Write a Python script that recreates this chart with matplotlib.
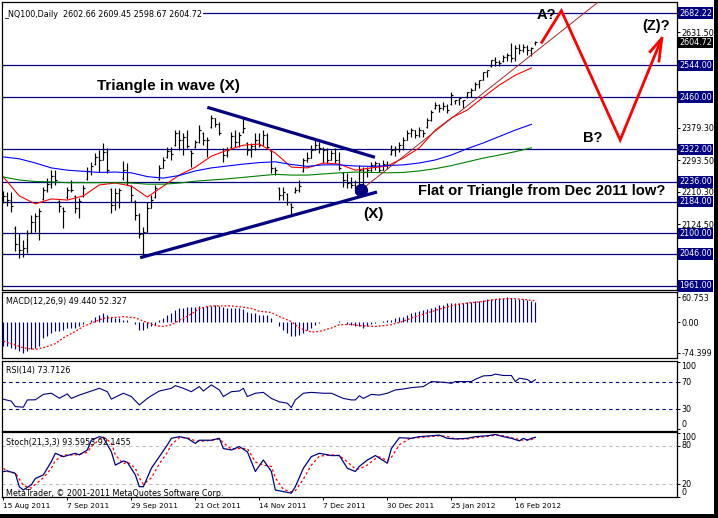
import numpy as np
import matplotlib.pyplot as plt
from matplotlib.patches import Rectangle
from matplotlib.transforms import blended_transform_factory

# ---- NQ100 daily bars, 15 Aug 2011 .. 23 Feb 2012 ----
bar_open = [2205, 2199, 2188, 2115, 2072, 2056, 2061, 2101, 2130, 2146,
            2192, 2215, 2230, 2252, 2185, 2168, 2195, 2215, 2198, 2167,
            2198, 2243, 2265, 2283, 2302, 2294, 2315, 2217, 2175, 2207,
            2245, 2267, 2225, 2186, 2148, 2098, 2104, 2167, 2195, 2244,
            2273, 2301, 2318, 2333, 2365, 2347, 2355, 2318, 2328, 2341,
            2366, 2347, 2380, 2405, 2389, 2324, 2307, 2328, 2357, 2341,
            2367, 2339, 2320, 2331, 2347, 2333, 2360, 2318, 2273, 2220,
            2201, 2205, 2178, 2209, 2215, 2265, 2294, 2299, 2320, 2333,
            2326, 2320, 2294, 2312, 2294, 2260, 2241, 2233, 2228, 2225,
            2267, 2262, 2267, 2281, 2286, 2267, 2283, 2309, 2320, 2323,
            2333, 2347, 2365, 2373, 2360, 2373, 2380, 2400, 2430, 2439,
            2431, 2437, 2441, 2450, 2452, 2450, 2460, 2474, 2479, 2495,
            2505, 2526, 2542, 2558, 2553, 2555, 2566, 2571, 2563, 2590,
            2585, 2592, 2585, 2602.66]
bar_high = [2212, 2209, 2209, 2120, 2101, 2083, 2109, 2148, 2154, 2167,
            2223, 2246, 2267, 2267, 2188, 2170, 2223, 2241, 2201, 2194,
            2228, 2275, 2289, 2312, 2320, 2339, 2326, 2220, 2220, 2220,
            2291, 2286, 2228, 2188, 2154, 2117, 2183, 2201, 2228, 2281,
            2302, 2328, 2328, 2373, 2373, 2365, 2373, 2320, 2347, 2386,
            2368, 2355, 2413, 2405, 2394, 2326, 2328, 2368, 2373, 2368,
            2405, 2341, 2339, 2365, 2365, 2373, 2365, 2320, 2275, 2222,
            2222, 2207, 2180, 2223, 2241, 2299, 2315, 2333, 2352, 2341,
            2328, 2326, 2320, 2326, 2315, 2262, 2259, 2249, 2241, 2281,
            2275, 2275, 2289, 2291, 2286, 2294, 2291, 2333, 2331, 2341,
            2355, 2373, 2378, 2373, 2381, 2373, 2405, 2426, 2447, 2442,
            2447, 2442, 2473, 2452, 2458, 2452, 2474, 2484, 2500, 2505,
            2527, 2532, 2558, 2566, 2558, 2571, 2577, 2603, 2598, 2600,
            2600, 2598, 2592, 2609.45]
bar_low = [2180, 2172, 2157, 2053, 2035, 2038, 2048, 2101, 2104, 2083,
           2188, 2209, 2220, 2228, 2157, 2114, 2191, 2209, 2154, 2141,
           2196, 2241, 2254, 2281, 2262, 2294, 2260, 2154, 2162, 2167,
           2241, 2228, 2183, 2135, 2088, 2038, 2104, 2167, 2193, 2241,
           2273, 2299, 2294, 2331, 2320, 2307, 2326, 2275, 2326, 2339,
           2333, 2302, 2378, 2381, 2360, 2289, 2302, 2326, 2328, 2328,
           2365, 2307, 2302, 2320, 2328, 2333, 2326, 2260, 2254, 2188,
           2188, 2175, 2149, 2207, 2209, 2262, 2289, 2299, 2320, 2312,
           2286, 2286, 2294, 2286, 2267, 2223, 2220, 2220, 2207, 2223,
           2207, 2249, 2262, 2267, 2262, 2267, 2270, 2307, 2304, 2315,
           2320, 2347, 2355, 2352, 2355, 2355, 2378, 2397, 2429, 2421,
           2426, 2418, 2439, 2442, 2439, 2431, 2458, 2460, 2479, 2484,
           2505, 2513, 2540, 2542, 2542, 2553, 2555, 2553, 2555, 2574,
           2579, 2571, 2569, 2598.67]
bar_close = [2199, 2188, 2172, 2072, 2056, 2061, 2101, 2130, 2146, 2159,
             2215, 2230, 2252, 2241, 2172, 2159, 2215, 2215, 2167, 2186,
             2220, 2265, 2278, 2302, 2294, 2315, 2267, 2175, 2207, 2215,
             2267, 2236, 2201, 2148, 2098, 2104, 2167, 2188, 2220, 2273,
             2294, 2318, 2310, 2365, 2347, 2355, 2331, 2312, 2341, 2373,
             2347, 2347, 2405, 2389, 2365, 2307, 2320, 2357, 2341, 2360,
             2378, 2320, 2331, 2347, 2333, 2360, 2328, 2273, 2267, 2201,
             2209, 2183, 2170, 2215, 2225, 2294, 2299, 2320, 2333, 2326,
             2320, 2294, 2312, 2294, 2273, 2241, 2233, 2228, 2215, 2267,
             2262, 2267, 2281, 2286, 2267, 2283, 2281, 2320, 2323, 2333,
             2347, 2365, 2373, 2360, 2373, 2365, 2400, 2421, 2439, 2431,
             2437, 2426, 2466, 2452, 2458, 2452, 2474, 2479, 2495, 2505,
             2526, 2532, 2558, 2553, 2550, 2566, 2571, 2563, 2590, 2585,
             2592, 2585, 2590, 2604.72]

# moving averages, sampled every 4 bars
ma_x = list(range(0, 133, 4))
ma_red = [2249, 2199, 2178, 2191, 2188, 2199, 2228, 2233, 2225, 2196, 2225, 2254,
          2275, 2304, 2320, 2333, 2336, 2312, 2275, 2273, 2286, 2283, 2267, 2273,
          2278, 2299, 2326, 2373, 2405, 2426, 2460, 2492, 2518, 2537]
ma_blue = [2302, 2297, 2286, 2273, 2267, 2264, 2261, 2262, 2260, 2250, 2246, 2253,
           2265, 2273, 2278, 2283, 2287, 2289, 2282, 2277, 2281, 2281, 2278, 2277,
           2279, 2281, 2286, 2294, 2307, 2324, 2339, 2356, 2373, 2388]
ma_green = [2249, 2241, 2237, 2236, 2234, 2234, 2234, 2234, 2233, 2230, 2230, 2233,
            2238, 2241, 2244, 2248, 2252, 2256, 2254, 2254, 2257, 2260, 2262, 2261,
            2260, 2261, 2265, 2271, 2279, 2289, 2299, 2307, 2316, 2326]

# MACD(12,26,9)
macd_hist = [-58, -58, -62, -66, -70, -74.399, -70, -66, -62, -58,
             -38, -34, -26, -21, -21, -18, -14, -13, -13, -10,
             -5, 0, 6, 14, 18, 22, 19, 14, 10, 10,
             6, 6, 2, -5, -18, -18, -14, -10, -6, 6,
             10, 18, 22, 30, 34, 35, 38, 38, 38, 40,
             38, 40, 40, 43, 40, 38, 35, 34, 34, 34,
             32, 26, 22, 22, 19, 18, 18, 11, 2, -10,
             -18, -26, -34, -34, -30, -26, -18, -14, -6, -2,
             0, 2, 2, 2, 3, 0, -5, -6, -10, -10,
             -13, -10, -5, -2, 0, 3, 6, 6, 10, 14,
             14, 18, 22, 26, 27, 30, 32, 34, 38, 42,
             43, 46, 46, 48, 48, 48, 50, 50, 51, 51,
             54, 56, 56, 58, 59, 60, 60.753, 60, 58, 56,
             56, 54, 52, 49.44]
sig_x = [0, 3, 5, 8, 10, 13, 15, 18, 20, 23, 25, 28, 30, 33, 35, 38, 40, 42, 44, 47,
         49, 52, 54, 57, 59, 62, 64, 67, 69, 72, 74, 77, 79, 82, 84, 87, 89, 93, 97, 100,
         103, 107, 110, 113, 117, 120, 123, 127, 130, 133]
sig_val = [-46, -55, -62, -66, -62, -52, -38, -22, -10, 2, 10, 12, 14, 11, 3, -8, -10, -6, 5, 20,
           34, 40, 40, 40, 38, 34, 27, 24, 14, 2, -14, -24, -22, -14, -6, -5, -8, -10, -6, 3,
           14, 26, 35, 43, 48, 51, 56, 58, 56, 52.327]

# RSI(14)
rsi_x = [0, 2, 3, 5, 6, 8, 10, 12, 14, 16, 17, 19, 22, 24, 26, 27, 30, 32, 34, 36,
         37, 39, 42, 43, 45, 47, 49, 50, 52, 54, 55, 57, 59, 60, 61, 63, 65, 67, 69, 71,
         72, 73, 75, 77, 80, 82, 85, 87, 88, 89, 90, 92, 94, 96, 98, 100, 102, 105, 107, 110,
         112, 113, 115, 117, 118, 120, 122, 123, 125, 127, 128, 129, 131, 132, 133]
rsi_val = [44.8, 42, 34, 33, 43.8, 44, 52, 53.7, 46.3, 52.7, 46, 51, 57, 61, 56, 45, 53.7, 48.8, 36.4, 46,
           50, 57, 61, 65, 61, 56, 63.6, 57, 66, 58.6, 48.8, 56, 57, 61, 48.8, 53.7, 55, 46, 41, 38.9,
           32.5, 43.8, 53.7, 55, 53.7, 53.7, 46, 43.8, 43.8, 50, 46, 52, 51, 53.7, 58.6, 60, 62, 63.6, 71, 70,
           68.5, 71, 71, 71, 74.4, 79.4, 80, 82, 80, 80, 71, 76, 74, 70, 73.7126]

# Stoch(21,3,3)
st_x = [0, 1, 3, 4, 5, 7, 8, 10, 12, 13, 15, 18, 19, 21, 22, 24, 25, 27, 28, 30,
        31, 33, 34, 35, 37, 39, 41, 42, 44, 46, 48, 49, 52, 54, 55, 57, 59, 61, 63, 65,
        67, 68, 70, 72, 73, 75, 77, 79, 82, 84, 86, 88, 89, 91, 93, 94, 96, 97, 99, 102,
        104, 107, 109, 111, 113, 116, 118, 121, 123, 125, 127, 129, 130, 131, 132, 133]
st_main = [39.8, 41, 37, 16, 11, 19, 29, 34.6, 55.5, 68.5, 63.3, 68.5, 66, 73.7, 89, 94.6, 93, 71, 50, 56.5,
           54.4, 34.6, 16.3, 16, 45, 63.3, 81.6, 92, 94.6, 92, 84, 89, 89, 92, 76, 73.7, 79, 71, 40, 58,
           40, 11, 8.5, 6, 16.3, 45, 63.3, 68.5, 65, 65, 45, 40, 48, 58, 65, 61, 53, 76, 93, 92,
           94.6, 96, 97, 92, 91, 92, 94.6, 96, 98, 94.6, 92, 88, 92, 89, 92, 93.5953]
st_sig = [45, 40, 38, 28, 18, 14, 20, 30, 45, 57, 66, 66, 67, 70, 79, 90, 94, 85, 66, 52,
          55, 45, 30, 20, 30, 52, 70, 82, 93, 93, 88, 87, 89, 91, 85, 75, 76, 76, 55, 50,
          48, 30, 12, 8, 10, 28, 50, 64, 66, 65, 55, 44, 44, 50, 60, 63, 57, 62, 82, 93,
          93, 95, 96, 95, 91, 91, 93, 95, 97, 96, 93, 90, 89, 90, 90, 92.1455]

# horizontal levels and right-scale labels
level_lines = [2682.22, 2544.00, 2460.00, 2322.00, 2236.00, 2184.00, 2100.00, 2046.00, 1961.00]
price_ticks = [2631.50, 2379.30, 2293.50, 2210.30, 2124.50]
last_price = 2604.72

date_ticks = [0, 16, 32, 48, 64, 80, 96, 112, 128]
date_labels = ['15 Aug 2011', '7 Sep 2011', '29 Sep 2011', '21 Oct 2011', '14 Nov 2011',
               '7 Dec 2011', '30 Dec 2011', '25 Jan 2012', '16 Feb 2012']

# drawn objects (bar index, price)
tri_upper_x, tri_upper_y = [51.0, 92.9], [2433.1, 2301.0]
tri_lower_x, tri_lower_y = [34.2, 93.4], [2035.7, 2209.3]
x_low = (89.4, 2214.6)
chan_x, chan_y = [89.4, 150.0], [2214.6, 2722.0]
wave_x = [134.6, 139.5, 154.2, 164.6]
wave_y = [2604.8, 2688.3, 2346.7, 2615.4]
head_x = [161.7, 164.6, 163.9]
head_y = [2580.0, 2615.4, 2555.4]

notes = [('Triangle in wave (X)', 23.4, 2490.0, 11),
         ('Flat or Triangle from Dec 2011 low?', 103.75, 2212.0, 10.6),
         ('(X)', 89.85, 2151.0, 11),
         ('A?', 133.2, 2677.0, 10.5),
         ('(Z)?', 159.6, 2648.0, 10.5),
         ('B?', 144.85, 2352.0, 10.5)]

NAVY = '#000080'
FS = 5.8
plt.rcParams['font.family'] = ['DejaVu Sans']

W, H = 718, 518
fig = plt.figure(figsize=(W / 100, H / 100), dpi=100, facecolor='white')


def pane(top, bottom):
    a = fig.add_axes([2 / W, (H - bottom) / H, 675 / W, (bottom - top) / H])
    a.set_xlim(-0.33, 168.4)
    for s in a.spines.values():
        s.set_linewidth(0.9)
        s.set_color('black')
    a.yaxis.tick_right()
    a.tick_params(axis='y', length=2.5, width=0.7, pad=1, labelsize=FS)
    a.tick_params(axis='x', bottom=False, labelbottom=False)
    return a


ax = pane(2, 290)
ax_macd = pane(292, 358)
ax_rsi = pane(360.5, 430.5)
ax_st = pane(432, 497)

# ---- main price pane ----
idx = np.arange(len(bar_close))
ax.set_ylim(1950.4, 2711.3)
ax.vlines(idx, bar_low, bar_high, color='black', lw=0.85, zorder=3)
ax.hlines(bar_open, idx - 0.3, idx, color='black', lw=0.85, zorder=3)
ax.hlines(bar_close, idx, idx + 0.3, color='black', lw=0.85, zorder=3)

ax.plot(ma_x, ma_red, color='red', lw=0.8, zorder=4)
ax.plot(ma_x, ma_blue, color='blue', lw=0.8, zorder=4)
ax.plot(ma_x, ma_green, color='green', lw=0.8, zorder=4)

for lv in level_lines:
    ax.axhline(lv, color=NAVY, lw=0.9, zorder=2)

ax.plot(tri_upper_x, tri_upper_y, color=NAVY, lw=2.3, solid_capstyle='butt', zorder=5)
ax.plot(tri_lower_x, tri_lower_y, color=NAVY, lw=2.3, solid_capstyle='butt', zorder=5)
ax.plot(chan_x, chan_y, color='#a52a2a', lw=0.7, zorder=5)
ax.plot([x_low[0]], [x_low[1]], 'o', color=NAVY, ms=8.5, zorder=6)

ax.plot(wave_x, wave_y, color='red', lw=2.0, zorder=6, solid_joinstyle='miter')
ax.plot(head_x, head_y, color='red', lw=2.0, zorder=6)

for txt, tx, ty, fs in notes:
    ax.text(tx, ty, txt, fontsize=fs, fontweight='bold', family='Liberation Sans',
            ha='left', va='center', zorder=7)

ax.text(0.003, 0.958, '_NQ100,Daily  2602.66 2609.45 2598.67 2604.72', transform=ax.transAxes,
        fontsize=FS, ha='left', va='center', zorder=8,
        bbox=dict(boxstyle='square,pad=0.15', fc='white', ec='none'))

ax.set_yticks(price_ticks)
ax.set_yticklabels([f'{p:.2f}' for p in price_ticks])
trans = blended_transform_factory(ax.transAxes, ax.transData)
for lv in level_lines:
    ax.text(1.003, lv, f'{lv:.2f}', transform=trans, ha='left', va='center', color='white',
            fontsize=FS, clip_on=False,
            bbox=dict(boxstyle='square,pad=0.15', fc=NAVY, ec='none'))
ax.text(1.003, last_price, f'{last_price:.2f}', transform=trans, ha='left', va='center',
        color='white', fontsize=FS, clip_on=False,
        bbox=dict(boxstyle='square,pad=0.15', fc='black', ec='none'))

# ---- MACD ----
ax_macd.set_ylim(-87, 74)
ax_macd.vlines(idx, 0, macd_hist, color=NAVY, lw=0.85)
ax_macd.plot(sig_x, sig_val, color='red', lw=0.9, ls=(0, (1.5, 1.5)))
ax_macd.set_yticks([60.753, 0, -74.399])
ax_macd.set_yticklabels(['60.753', '0.00', '-74.399'])
ax_macd.text(0.006, 0.85, 'MACD(12,26,9) 49.440 52.327', transform=ax_macd.transAxes,
             fontsize=FS, ha='left', va='center')

# ---- RSI ----
ax_rsi.set_ylim(-1.5, 102.2)
for lv in (70, 30):
    ax_rsi.axhline(lv, color=NAVY, lw=0.8, ls=(0, (3, 3)))
ax_rsi.plot(rsi_x, rsi_val, color=NAVY, lw=0.8)
ax_rsi.set_yticks([100, 70, 30, 0])
ax_rsi.set_yticklabels([])
tr = blended_transform_factory(ax_rsi.transAxes, ax_rsi.transData)
for v, va in ((100, 'top'), (70, 'center'), (30, 'center'), (0, 'bottom')):
    ax_rsi.text(1.006, v, str(v), transform=tr, fontsize=FS, ha='left', va=va, clip_on=False)
ax_rsi.text(0.006, 0.85, 'RSI(14) 73.7126', transform=ax_rsi.transAxes,
            fontsize=FS, ha='left', va='center')

# ---- Stochastic ----
ax_st.set_ylim(0, 101.9)
for lv in (80, 20):
    ax_st.axhline(lv, color='#c0c0c0', lw=0.8, ls=(0, (3, 3)))
ax_st.plot(st_x, st_sig, color='red', lw=0.9, ls=(0, (2, 2)))
ax_st.plot(st_x, st_main, color=NAVY, lw=0.9)
ax_st.set_yticks([100, 80, 20, 0])
ax_st.set_yticklabels([])
tr = blended_transform_factory(ax_st.transAxes, ax_st.transData)
for v, va in ((100, 'top'), (80, 'center'), (20, 'center'), (0, 'bottom')):
    ax_st.text(1.006, v, str(v), transform=tr, fontsize=FS, ha='left', va=va, clip_on=False)
ax_st.text(0.006, 0.84, 'Stoch(21,3,3) 93.5953 92.1455', transform=ax_st.transAxes,
           fontsize=FS, ha='left', va='center')
ax_st.text(0.006, 0.06, 'MetaTrader, \u00a9 2001-2011 MetaQuotes Software Corp.',
           transform=ax_st.transAxes, fontsize=FS, ha='left', va='center')

ax_st.tick_params(axis='x', bottom=True, labelbottom=True, length=2.5, width=0.7,
                  pad=1.5, labelsize=5.3)
ax_st.set_xticks(date_ticks)
ax_st.set_xticklabels(date_labels, ha='left')

# window frame (black strip bottom / right)
fig.add_artist(Rectangle((0, 0), 1, 4 / H, transform=fig.transFigure, fc='black', ec='none'))
fig.add_artist(Rectangle((714 / W, 0), 4 / W, 1, transform=fig.transFigure, fc='black', ec='none'))

fig.savefig('out.png', dpi=100)
